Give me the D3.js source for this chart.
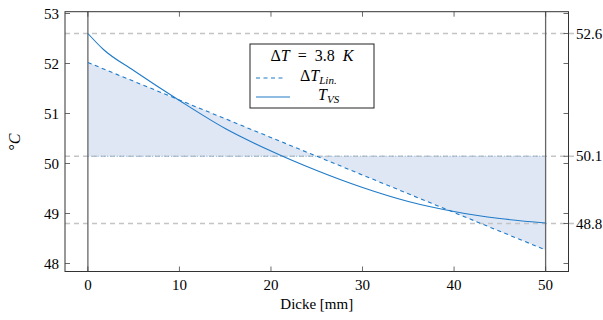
<!DOCTYPE html>
<html>
<head>
<meta charset="utf-8">
<script src="https://cdn.jsdelivr.net/npm/d3@7"></script>
</head>
<body style="margin:0">
<svg id="s" width="603" height="320"></svg>
<script>
// ---- data ----
const xTicks = [0, 10, 20, 30, 40, 50];
const yTicks = [48, 49, 50, 51, 52, 53];
const thickness = [0, 1.7, 5, 10, 15, 20, 25, 30, 35, 40, 45, 50];
const tVS = [52.60, 52.28, 51.86, 51.26, 50.70, 50.25, 49.86, 49.52, 49.24, 49.04, 48.90, 48.81];
const linX = [0, 50];
const linT = [52.02, 48.27];
const refValues = [52.6, 50.145, 48.8];
const refLabels = ["52.6", "50.1", "48.8"];
const deltaT = "3.8";

const svg = d3.select("#s").attr("font-family", "Liberation Serif").style("font-family", '"Liberation Serif"');
const pL = 65, pR = 568.5, pT = 11.7, pB = 271.5;
const xs = d3.scaleLinear().domain([-2.5, 52.5]).range([pL, pR]);
const ys = d3.scaleLinear().domain([47.84, 53.036]).range([pB, pT]);
const blue = "#1f7bc8";
const tMean = refValues[1];

function txt(sel) {
  return sel.attr("font-family", "Liberation Serif").style("font-family", '"Liberation Serif"');
}

const linPts = linX.map((v, i) => [v, linT[i]]);
const area = d3.area().x(d => xs(d[0])).y0(ys(tMean)).y1(d => ys(d[1]));
svg.append("path").datum(linPts).attr("d", area).attr("fill", "#dfe6f4");

svg.selectAll(".ref").data(refValues).enter().append("line")
  .attr("x1", pL).attr("x2", pR + 6)
  .attr("y1", d => ys(d)).attr("y2", d => ys(d))
  .attr("stroke", "#c4c4c4").attr("stroke-width", 1.3).attr("stroke-dasharray", "5,4");

svg.append("line").attr("x1", xs(0)).attr("x2", xs(50))
  .attr("y1", ys(tMean)).attr("y2", ys(tMean))
  .attr("stroke", "#7fb4e2").attr("stroke-width", 1.2).attr("stroke-dasharray", "1.2,2");

svg.selectAll(".vl").data([0, 50]).enter().append("line")
  .attr("x1", d => xs(d)).attr("x2", d => xs(d))
  .attr("y1", pT).attr("y2", pB)
  .attr("stroke", "#666").attr("stroke-width", 1.3);

const line = d3.line().x(d => xs(d[0])).y(d => ys(d[1]));
svg.append("path").datum(linPts).attr("d", line)
  .attr("fill", "none").attr("stroke", blue).attr("stroke-width", 1.1).attr("stroke-dasharray", "4,3.5");

const vsPts = thickness.map((v, i) => [v, tVS[i]]);
const smooth = d3.line().x(d => xs(d[0])).y(d => ys(d[1])).curve(d3.curveMonotoneX);
svg.append("path").datum(vsPts).attr("d", smooth)
  .attr("fill", "none").attr("stroke", blue).attr("stroke-width", 1.1);

svg.append("rect").attr("x", pL).attr("y", pT).attr("width", pR - pL).attr("height", pB - pT)
  .attr("fill", "none").attr("stroke", "#333").attr("stroke-width", 1);

const tl = 5;
const tickG = svg.append("g").attr("stroke", "#444").attr("stroke-width", 0.8);
xTicks.forEach(t => {
  tickG.append("line").attr("x1", xs(t)).attr("x2", xs(t)).attr("y1", pB).attr("y2", pB - tl);
  tickG.append("line").attr("x1", xs(t)).attr("x2", xs(t)).attr("y1", pT).attr("y2", pT + tl);
});
yTicks.forEach(t => {
  tickG.append("line").attr("x1", pL).attr("x2", pL + tl).attr("y1", ys(t)).attr("y2", ys(t));
  tickG.append("line").attr("x1", pR).attr("x2", pR - tl).attr("y1", ys(t)).attr("y2", ys(t));
});
refValues.forEach(t => {
  tickG.append("line").attr("x1", pR).attr("x2", pR - tl).attr("y1", ys(t)).attr("y2", ys(t));
});

xTicks.forEach(t => {
  txt(svg.append("text")).attr("x", xs(t)).attr("y", 290).attr("text-anchor", "middle")
    .attr("font-size", 15).text(t);
});
yTicks.forEach(t => {
  txt(svg.append("text")).attr("x", 59).attr("y", ys(t) + 5).attr("text-anchor", "end")
    .attr("font-size", 15).text(t);
});
refValues.forEach((t, i) => {
  txt(svg.append("text")).attr("x", 576).attr("y", ys(t) + 5)
    .attr("font-size", 15).text(refLabels[i]);
});

txt(svg.append("text")).attr("x", (pL + pR) / 2).attr("y", 309).attr("text-anchor", "middle")
  .attr("font-size", 15).text("Dicke [mm]");
const yl = txt(svg.append("text")).attr("transform", "translate(20,142) rotate(-90)")
  .attr("text-anchor", "middle").attr("font-size", 16);
yl.append("tspan").text("°");
yl.append("tspan").attr("font-style", "italic").text("C");

const lg = svg.append("g");
lg.append("rect").attr("x", 250).attr("y", 44).attr("width", 124).attr("height", 64)
  .attr("fill", "#fff").attr("stroke", "#222").attr("stroke-width", 1);
const r1 = txt(lg.append("text")).attr("x", 312).attr("y", 61).attr("text-anchor", "middle")
  .attr("font-size", 16).style("white-space", "pre");
r1.append("tspan").text("Δ");
r1.append("tspan").attr("font-style", "italic").text("T");
r1.append("tspan").text("  =  " + deltaT + "  ");
r1.append("tspan").attr("font-style", "italic").text("K");

lg.append("line").attr("x1", 256).attr("x2", 284).attr("y1", 78).attr("y2", 78)
  .attr("stroke", blue).attr("stroke-width", 1.1).attr("stroke-dasharray", "4,3.5");
const r2 = txt(lg.append("text")).attr("x", 300).attr("y", 81).attr("font-size", 16);
r2.append("tspan").text("Δ");
r2.append("tspan").attr("font-style", "italic").text("T");
r2.append("tspan").attr("font-style", "italic").attr("font-size", 11).attr("dy", 3).text("Lin.");

lg.append("line").attr("x1", 256).attr("x2", 290).attr("y1", 97).attr("y2", 97)
  .attr("stroke", blue).attr("stroke-width", 1.1);
const r3 = txt(lg.append("text")).attr("x", 318).attr("y", 100).attr("font-size", 16);
r3.append("tspan").attr("font-style", "italic").text("T");
r3.append("tspan").attr("font-style", "italic").attr("font-size", 11).attr("dy", 3).text("VS");
</script>
</body>
</html>
